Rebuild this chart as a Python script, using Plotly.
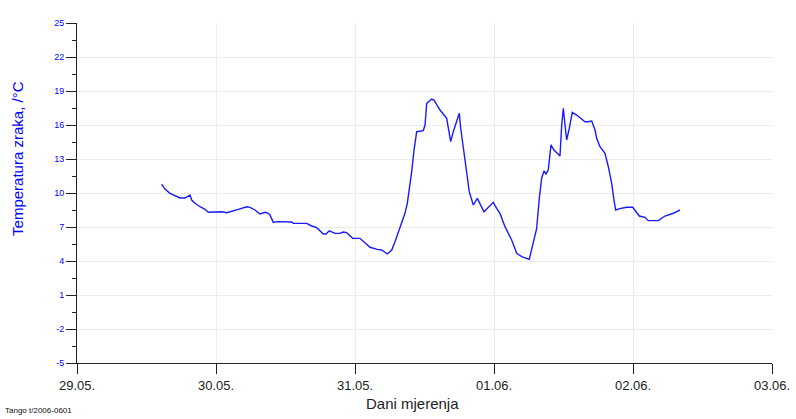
import pandas as pd
import plotly.graph_objects as go

# Air temperature series: hours elapsed since 29.05. 00:00 and temperature in °C
hours = [
    14.62, 15.19, 16.06, 16.92, 17.78, 18.65, 19.22, 19.51, 19.80, 20.37,
    21.24, 22.10, 22.67, 23.83, 24.98, 25.85, 26.99, 27.85, 29.30, 29.87,
    30.73, 31.60, 32.46, 33.03, 33.32, 33.89, 34.48, 37.07, 37.35, 39.66,
    40.52, 41.39, 42.53, 42.99, 43.56, 44.55, 45.41, 45.98, 46.57, 47.60,
    48.86, 49.55, 50.59, 51.85, 52.61, 53.58, 54.34, 54.91, 55.77, 56.63,
    57.03, 57.50, 57.79, 58.19, 58.65, 59.79, 60.09, 60.38, 61.24, 61.64,
    62.68, 63.83, 64.52, 64.97, 66.01, 66.25, 66.99, 67.39, 67.73, 68.43,
    69.12, 70.27, 71.02, 71.88, 72.46, 73.03, 73.90, 75.05, 75.92, 76.78,
    78.09, 78.78, 79.37, 79.82, 80.23, 80.63, 80.98, 81.37, 81.84, 82.36,
    83.39, 83.69, 83.97, 84.26, 84.55, 85.00, 85.52, 86.28, 87.71, 88.18,
    88.57, 88.87, 89.44, 89.73, 90.30, 91.16, 91.74, 92.32, 92.72, 93.01,
    93.75, 94.91, 95.95, 97.09, 98.07, 98.64, 100.37, 101.52, 102.96, 104.11,
]
temperature = [
    10.77, 10.35, 9.97, 9.80, 9.56, 9.56, 9.77, 9.82, 9.38, 9.09,
    8.79, 8.56, 8.30, 8.35, 8.35, 8.26, 8.41, 8.56, 8.79, 8.73,
    8.50, 8.15, 8.30, 8.21, 8.06, 7.41, 7.47, 7.44, 7.32, 7.32,
    7.09, 6.94, 6.38, 6.38, 6.67, 6.44, 6.44, 6.56, 6.50, 6.00,
    6.00, 5.70, 5.21, 5.03, 4.97, 4.62, 4.97, 5.70, 6.88, 8.21,
    9.09, 10.70, 11.88, 13.79, 15.41, 15.50, 16.00, 17.91, 18.29, 18.20,
    17.32, 16.59, 14.53, 15.41, 17.03, 15.71, 13.06, 11.59, 10.12, 8.94,
    9.53, 8.35, 8.70, 9.18, 8.65, 8.20, 7.03, 5.85, 4.68, 4.38,
    4.15, 5.70, 6.88, 9.53, 11.30, 11.94, 11.68, 12.03, 14.24, 13.79,
    13.26, 16.00, 17.47, 16.00, 14.68, 15.71, 17.12, 16.88, 16.29, 16.29,
    16.30, 16.35, 15.56, 14.82, 14.09, 13.50, 12.32, 10.85, 9.38, 8.50,
    8.62, 8.74, 8.74, 7.97, 7.85, 7.56, 7.56, 7.97, 8.21, 8.50,
]

start = pd.Timestamp("2006-05-29 00:00")
x_range = ["2006-05-29 00:00", "2006-06-03 00:00"]
y_range = [-5, 25]
y_ticks = [-5, -2, 1, 4, 7, 10, 13, 16, 19, 22, 25]
y_tick_labels = ["-5", "-2", "1", "4", "7", "10", "13", "16", "19", "22", "25"]

times = [start + pd.Timedelta(hours=h) for h in hours]

font_family = "Arial, Liberation Sans, sans-serif"
blue = "#0000ff"

fig = go.Figure(
    go.Scatter(
        x=times,
        y=temperature,
        mode="lines",
        line=dict(color="#1a1aff", width=1.4),
        hoverinfo="x+y",
    )
)

fig.update_layout(
    width=796,
    height=419,
    margin=dict(l=77, r=24, t=23, b=56, autoexpand=False),
    paper_bgcolor="white",
    plot_bgcolor="white",
    showlegend=False,
    font=dict(family=font_family),
)

fig.update_xaxes(
    type="date",
    range=x_range,
    dtick=86400000,
    tick0="2006-05-29",
    tickformat="%d.%m.",
    ticks="outside",
    ticklen=10,
    tickwidth=1,
    tickcolor="#222222",
    tickfont=dict(size=13, color="#222222"),
    showline=True,
    linecolor="#222222",
    linewidth=1,
    showgrid=True,
    gridcolor="#ececec",
    gridwidth=1,
    zeroline=False,
    automargin=False,
)

fig.update_yaxes(
    range=y_range,
    tickmode="array",
    tickvals=y_ticks,
    ticktext=y_tick_labels,
    ticks="outside",
    ticklen=10,
    tickwidth=1,
    tickcolor="#222222",
    tickfont=dict(size=9, color=blue),
    showline=True,
    linecolor="#222222",
    linewidth=1,
    showgrid=True,
    gridcolor="#ececec",
    gridwidth=1,
    zeroline=False,
    automargin=False,
    minor=dict(dtick=1.5, tick0=-5, ticks="outside", ticklen=4,
               tickcolor="#222222", showgrid=False),
)

fig.add_annotation(
    text="Temperatura zraka, /°C",
    xref="paper", yref="paper",
    x=-0.085, y=0.603,
    xanchor="center", yanchor="middle",
    textangle=-90,
    showarrow=False,
    font=dict(size=15, color=blue, family=font_family),
)
fig.add_annotation(
    text="Dani mjerenja",
    xref="paper", yref="paper",
    x=0.483, y=-0.118,
    xanchor="center", yanchor="middle",
    showarrow=False,
    font=dict(size=15, color="#222222", family=font_family),
)
fig.add_annotation(
    text="Tango t/2006-0601",
    xref="paper", yref="paper",
    x=-0.1065, y=-0.141,
    xanchor="left", yanchor="middle",
    showarrow=False,
    font=dict(size=8, color="#111111", family=font_family),
)

fig.write_html("out.html")
